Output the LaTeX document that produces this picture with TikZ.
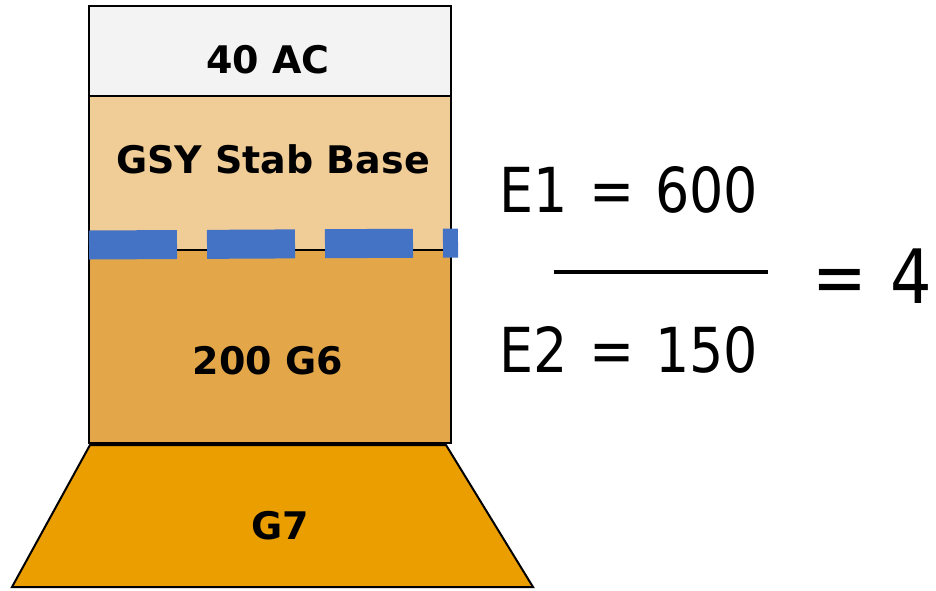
\documentclass[tikz,border=0pt]{standalone}
\usepackage{fontspec}
\setmainfont{DejaVu Sans}
\newfontfamily\eqfont[FakeStretch=0.87]{DejaVu Sans}
\definecolor{acgray}{RGB}{243,243,243}
\definecolor{stabcol}{RGB}{240,204,150}
\definecolor{gsixcol}{RGB}{227,167,74}
\definecolor{gsevcol}{RGB}{235,158,0}
\definecolor{dashblue}{RGB}{68,114,196}
\tikzset{
  layer/.style={draw=black, line width=2pt},
  lbl/.style={font=\fontsize{38}{40}\selectfont\bfseries, inner sep=0pt, anchor=center},
  eq/.style={font=\eqfont\fontsize{62}{64}\selectfont, inner sep=0pt, anchor=base west},
  big/.style={font=\eqfont\fontsize{75}{77}\selectfont, inner sep=0pt, anchor=base west},
}
\begin{document}
\begin{tikzpicture}[x=1pt,y=-1pt]
\useasboundingbox (0,0) rectangle (936,590);
% layers
\path[layer, fill=gsevcol] (90,445) -- (446,445) -- (533,587) -- (12,587) -- cycle;
\path[layer, fill=acgray] (89,6) rectangle (451,96);
\path[layer, fill=stabcol] (89,96) rectangle (451,250);
\path[layer, fill=gsixcol] (89,250) rectangle (451,443);
% blue dashed line
\draw[dashblue, line width=29pt, dash pattern=on 88pt off 30pt, line cap=butt] (89,245) -- (458,243);
% labels
\node[lbl] (ac) at (268,60) {40 AC};
\node[lbl] (stab) at (273,159) {GSY Stab Base};
\node[lbl] (g6) at (268,361) {200 G6};
\node[lbl] (g7) at (280,526) {G7};
% equation
\node[eq] (e1) at (499,212) {E1\hspace{5pt} = \hspace{3pt}600};
\node[eq] (e2) at (499,372) {E2\hspace{5pt} = \hspace{3pt}150};
\coordinate (fl) at (554,272);
\coordinate (fr) at (768,272);
\draw[line width=3.5pt] (fl) -- (fr);
\node[big] (eqsign) at (812,303) {=};
\node[big] (four) at (890,303) {4};
\end{tikzpicture}
\end{document}
